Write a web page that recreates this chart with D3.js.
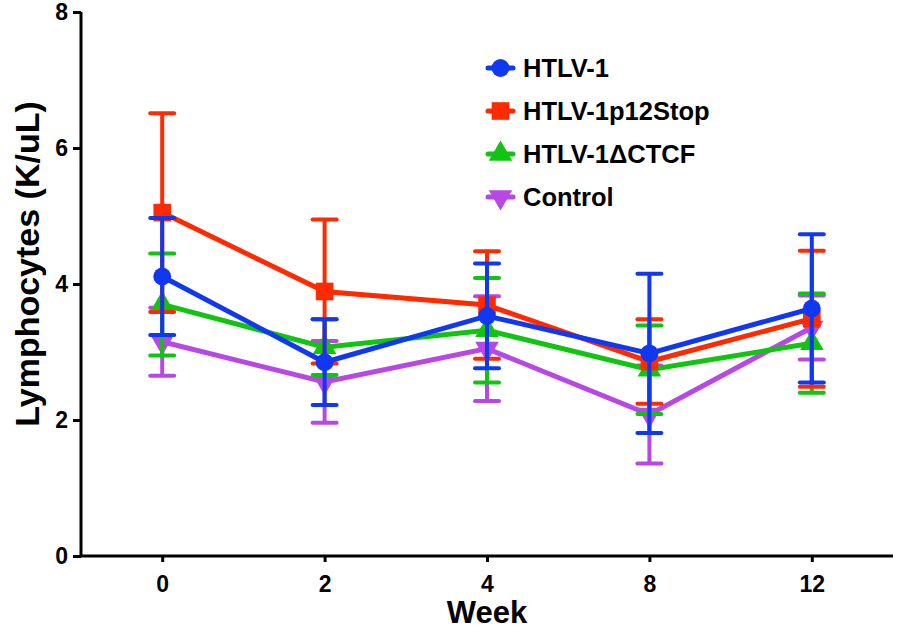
<!DOCTYPE html>
<html>
<head>
<meta charset="utf-8">
<script src="https://cdn.jsdelivr.net/npm/d3@7"></script>
<style>
  body { margin: 0; background: #fff; }
  text { font-family: "Liberation Sans", Arial, sans-serif; font-weight: bold; }
</style>
</head>
<body>
<svg id="chart"></svg>
<script>
// weeks on the x axis
const weeks = ["0", "2", "4", "8", "12"];

// series names (legend order)
const seriesNames = ["HTLV-1", "HTLV-1p12Stop", "HTLV-1\u0394CTCF", "Control"];

// means and error (SD) per week
const htlvMean = [4.11, 2.85, 3.53, 2.98, 3.64];
const htlvErr = [0.86, 0.63, 0.77, 1.17, 1.09];
const p12Mean = [5.05, 3.89, 3.69, 2.86, 3.49];
const p12Err = [1.46, 1.06, 0.79, 0.62, 1.0];
const ctcfMean = [3.70, 3.07, 3.32, 2.74, 3.13];
const ctcfErr = [0.75, 0.41, 0.77, 0.65, 0.73];
const ctrlMean = [3.15, 2.56, 3.05, 2.08, 3.36];
const ctrlErr = [0.50, 0.60, 0.77, 0.72, 0.47];

const yTicks = [0, 2, 4, 6, 8];

const width = 898, height = 633;
const margin = { top: 12, right: 5, bottom: 77, left: 81 };

const svg = d3.select("#chart")
    .attr("width", width)
    .attr("height", height);

const x = d3.scalePoint()
    .domain(weeks)
    .range([margin.left, width - margin.right])
    .padding(0.5);

const y = d3.scaleLinear()
    .domain([0, 8])
    .range([height - margin.bottom, margin.top]);

const colors = ["#1038f0", "#ff2a00", "#12c412", "#b848e6"];
const symbols = [d3.symbolCircle, d3.symbolSquare, d3.symbolTriangle, d3.symbolTriangle];
const symSizes = [250, 310, 240, 240];

const series = [
    { name: seriesNames[0], mean: htlvMean, err: htlvErr },
    { name: seriesNames[1], mean: p12Mean, err: p12Err },
    { name: seriesNames[2], mean: ctcfMean, err: ctcfErr },
    { name: seriesNames[3], mean: ctrlMean, err: ctrlErr }
];
series.forEach((s, i) => { s.color = colors[i]; s.symbol = symbols[i]; s.size = symSizes[i]; s.flip = i === 3; });

// Axes
const yAxis = svg.append("g")
    .attr("transform", `translate(${margin.left},0)`)
    .call(d3.axisLeft(y).tickValues(yTicks).tickSize(8).tickPadding(5).tickFormat(d3.format("d")));
yAxis.select(".domain").attr("stroke", "#000").attr("stroke-width", 3)
    .attr("d", `M0,${y(8)}V${y(0)}`);
yAxis.selectAll(".tick line").attr("stroke-width", 3);
yAxis.selectAll(".tick text").attr("font-size", 23).attr("fill", "#000")
    .style("font-family", "'Liberation Sans', Arial, sans-serif").style("font-weight", "bold");

const xAxis = svg.append("g")
    .attr("transform", `translate(0,${y(0)})`)
    .call(d3.axisBottom(x).tickSize(6).tickPadding(14));
xAxis.select(".domain").attr("stroke", "#000").attr("stroke-width", 3)
    .attr("d", `M${margin.left},0H${width - margin.right}`);
xAxis.selectAll(".tick line").attr("stroke-width", 3);
xAxis.selectAll(".tick text").attr("font-size", 23).attr("fill", "#000")
    .style("font-family", "'Liberation Sans', Arial, sans-serif").style("font-weight", "bold");

// Axis titles
svg.append("text")
    .attr("x", x("4"))
    .attr("y", 623)
    .attr("text-anchor", "middle")
    .attr("font-size", 31)
    .text("Week");

svg.append("text")
    .attr("transform", `translate(39,264) rotate(-90)`)
    .attr("text-anchor", "middle")
    .attr("font-size", 34)
    .text("Lymphocytes (K/uL)");

// draw series bottom-to-top: Control, ΔCTCF, p12Stop, HTLV-1
const line = d3.line().x((d, i) => x(weeks[i])).y(d => y(d));
const capW = 12;

series.slice().reverse().forEach(s => {
    const g = svg.append("g");
    g.append("path")
        .datum(s.mean)
        .attr("d", line)
        .attr("fill", "none")
        .attr("stroke", s.color)
        .attr("stroke-width", 5);

    const eb = g.selectAll(".eb")
        .data(s.mean.map((m, i) => ({ m, e: s.err[i], w: weeks[i] })))
        .enter().append("g");
    eb.append("line")
        .attr("x1", d => x(d.w)).attr("x2", d => x(d.w))
        .attr("y1", d => y(d.m - d.e)).attr("y2", d => y(d.m + d.e))
        .attr("stroke", s.color).attr("stroke-width", 4);
    [1, -1].forEach(sign => {
        eb.append("line")
            .attr("x1", d => x(d.w) - capW).attr("x2", d => x(d.w) + capW)
            .attr("y1", d => y(d.m + sign * d.e)).attr("y2", d => y(d.m + sign * d.e))
            .attr("stroke", s.color).attr("stroke-width", 4).attr("stroke-linecap", "round");
    });

    g.selectAll(".pt")
        .data(s.mean)
        .enter().append("path")
        .attr("d", d3.symbol().type(s.symbol).size(s.size))
        .attr("transform", (d, i) => `translate(${x(weeks[i])},${y(d)})${s.flip ? " rotate(180)" : ""}`)
        .attr("fill", s.color);
});

// Legend
const legend = svg.append("g").attr("transform", "translate(488,68)");
series.forEach((s, i) => {
    const row = legend.append("g").attr("transform", `translate(0,${i * 43})`);
    row.append("line")
        .attr("x1", 0).attr("x2", 25)
        .attr("stroke", s.color).attr("stroke-width", 5).attr("stroke-linecap", "round");
    row.append("path")
        .attr("d", d3.symbol().type(s.symbol).size(s.size))
        .attr("transform", `translate(12.5,0)${s.flip ? " rotate(180)" : ""}`)
        .attr("fill", s.color);
    row.append("text")
        .attr("x", 35)
        .attr("y", 0)
        .attr("dy", "0.36em")
        .attr("font-size", 25.5)
        .text(s.name);
});
</script>
</body>
</html>
